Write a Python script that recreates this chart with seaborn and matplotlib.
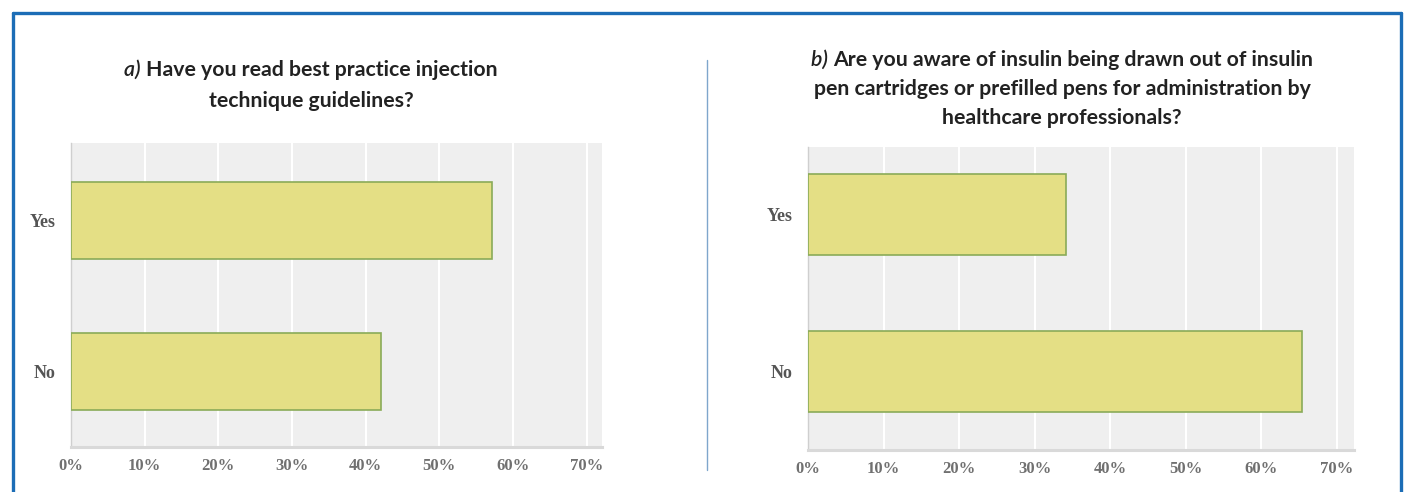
import matplotlib.pyplot as plt
import matplotlib.ticker as ticker
from matplotlib.lines import Line2D
import pandas as pd
import seaborn as sns

# data
answers = ["Yes", "No"]
read_guidelines = [57.2, 42.1]
aware_drawn_out = [34.2, 65.4]
xticks = [0, 10, 20, 30, 40, 50, 60, 70]

title_a_tag = "a)"
title_a_lines = ["Have you read best practice injection", "technique guidelines?"]
title_b_tag = "b)"
title_b_lines = ["Are you aware of insulin being drawn out of insulin",
                 "pen cartridges or prefilled pens for administration by",
                 "healthcare professionals?"]

sns.set_style("white")
plt.rcParams["font.family"] = ["Lato", "DejaVu Sans"]

bar_fill = "#e4df85"
bar_edge = "#8aab58"
panel_bg = "#efefef"

fig = plt.figure(figsize=(14.1, 4.92), dpi=100, facecolor="white")

W, H = 1410, 492


def px(x, y):
    return x / W, 1 - y / H


def draw_panel(rect, values, xmax, ylim):
    ax = fig.add_axes(rect)
    df = pd.DataFrame({"answer": answers, "pct": values})
    sns.barplot(data=df, x="pct", y="answer", orient="h", width=0.51,
                color=bar_fill, saturation=1, edgecolor=bar_edge,
                linewidth=1.2, ax=ax, zorder=3)
    ax.set_facecolor(panel_bg)
    ax.set_xlim(0, xmax)
    ax.set_ylim(*ylim)
    ax.set_xticks(xticks)
    ax.xaxis.set_major_formatter(ticker.FuncFormatter(lambda v, _: f"{v:.0f}%"))
    ax.grid(True, axis="x", color="white", linewidth=1.5, zorder=0)
    ax.grid(False, axis="y")
    ax.set_axisbelow(True)
    for s in ["top", "right"]:
        ax.spines[s].set_visible(False)
    ax.spines["left"].set_color("#cfcfcf")
    ax.spines["left"].set_linewidth(1)
    ax.spines["bottom"].set_color("#d9d9d9")
    ax.spines["bottom"].set_linewidth(2.2)
    ax.tick_params(axis="both", length=0)
    ax.tick_params(axis="x", pad=8)
    ax.tick_params(axis="y", pad=11)
    for lab in ax.get_xticklabels():
        lab.set_fontfamily("Liberation Serif")
        lab.set_fontweight("bold")
        lab.set_fontsize(12)
        lab.set_color("#707070")
    for lab in ax.get_yticklabels():
        lab.set_fontfamily("Liberation Serif")
        lab.set_fontweight("bold")
        lab.set_fontsize(13)
        lab.set_color("#555555")
    ax.set_xlabel("")
    ax.set_ylabel("")
    return ax


x0, y1 = px(71, 143)
x1, y0 = px(602, 447)
draw_panel([x0, y0, x1 - x0, y1 - y0], read_guidelines, 72.1, (1.50, -0.51))

x0, y1 = px(808, 147)
x1, y0 = px(1353.5, 450)
draw_panel([x0, y0, x1 - x0, y1 - y0], aware_drawn_out, 72.2, (1.50, -0.43))

TITLE_SIZE = 15.3


def draw_title(tag, lines, cx, ys):
    renderer = fig.canvas.get_renderer()
    for i, (line, y) in enumerate(zip(lines, ys)):
        fx, fy = px(cx, y)
        if i == 0:
            t = fig.text(fx, fy, line, ha="center", va="center", fontsize=TITLE_SIZE,
                         fontweight="bold", color="#222222")
            tg = fig.text(0, fy, tag + " ", ha="left", va="center", fontsize=TITLE_SIZE,
                          fontstyle="italic", fontweight="semibold", color="#222222")
            w_main = t.get_window_extent(renderer).width
            w_tag = tg.get_window_extent(renderer).width
            left = cx - (w_main + w_tag) / 2
            tg.set_x(left / W)
            t.set_x((left + w_tag + w_main / 2) / W)
        else:
            fig.text(fx, fy, line, ha="center", va="center", fontsize=TITLE_SIZE,
                     fontweight="bold", color="#222222")


draw_title(title_a_tag, title_a_lines, 311, [70, 101])
draw_title(title_b_tag, title_b_lines, 1062, [60, 89, 118])

# blue frame (open at the bottom) and divider
frame = "#1c6db6"
fig.add_artist(Line2D([13 / W, 13 / W], [0, 1 - 13 / H], color=frame, lw=2.4))
fig.add_artist(Line2D([13 / W, 1401 / W], [1 - 13 / H, 1 - 13 / H], color=frame, lw=2.4))
fig.add_artist(Line2D([1401 / W, 1401 / W], [0, 1 - 13 / H], color=frame, lw=2.4))
fig.add_artist(Line2D([707 / W, 707 / W], [1 - 470 / H, 1 - 60 / H], color="#7fa6cc", lw=1))

fig.savefig("out.png", dpi=100, facecolor="white")
